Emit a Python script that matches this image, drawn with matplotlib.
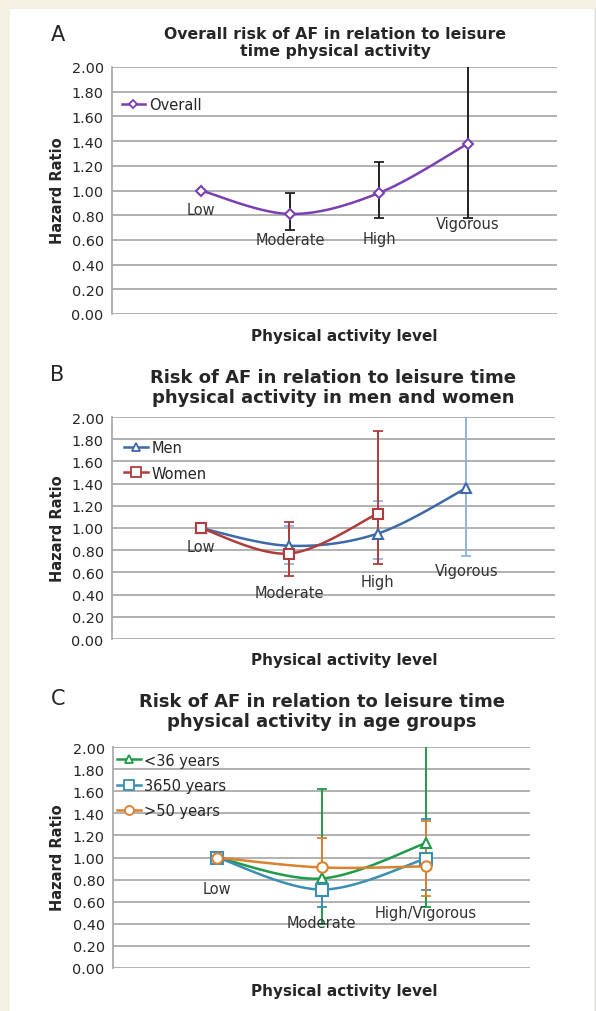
import numpy as np
import matplotlib
matplotlib.use("Agg")
import matplotlib.pyplot as plt
from matplotlib.patches import Rectangle
from matplotlib.lines import Line2D

# ---------------- data ----------------
cats_A = ["Low", "Moderate", "High", "Vigorous"]
overall_hr = [1.00, 0.81, 0.98, 1.38]
overall_lo = [np.nan, 0.68, 0.78, 0.78]
overall_hi = [np.nan, 0.98, 1.23, 2.30]

cats_B = ["Low", "Moderate", "High", "Vigorous"]
men_hr = [1.00, 0.84, 0.95, 1.36]
men_lo = [np.nan, 0.68, 0.72, 0.75]
men_hi = [np.nan, 1.02, 1.24, 2.30]
women_hr = [1.00, 0.77, 1.13]
women_lo = [np.nan, 0.57, 0.68]
women_hi = [np.nan, 1.05, 1.87]

cats_C = ["Low", "Moderate", "High/Vigorous"]
young_hr = [1.00, 0.81, 1.13]
young_lo = [np.nan, 0.40, 0.55]
young_hi = [np.nan, 1.62, 2.30]
mid_hr = [1.00, 0.71, 0.99]
mid_lo = [np.nan, 0.55, 0.71]
mid_hi = [np.nan, 0.92, 1.35]
old_hr = [1.00, 0.91, 0.92]
old_lo = [np.nan, 0.72, 0.65]
old_hi = [np.nan, 1.18, 1.33]

yticks = [0.0, 0.2, 0.4, 0.6, 0.8, 1.0, 1.2, 1.4, 1.6, 1.8, 2.0]

# ---------------- helpers ----------------
W, H = 596, 1012
fig = plt.figure(figsize=(W / 100, H / 100), dpi=100)
fig.patch.set_facecolor("#F3F1E4")
fig.add_artist(Rectangle((10 / W, 0), 584 / W, (H - 10) / H, transform=fig.transFigure,
                         facecolor="white", edgecolor="none", zorder=0))
fig.add_artist(Line2D([594.5 / W, 594.5 / W], [0, (H - 10) / H], transform=fig.transFigure,
                      color="#E2E2E2", lw=1, zorder=0))

TXT = "#262626"
GRID = "#ABABAB"


def rect(l, r, t, b):
    return [l / W, 1 - b / H, (r - l) / W, (b - t) / H]


def smooth(x, y, n=40):
    pts = np.column_stack([np.asarray(x, float), np.asarray(y, float)])
    out = []
    m = len(pts)
    for i in range(m - 1):
        p0 = pts[max(i - 1, 0)]
        p1 = pts[i]
        p2 = pts[i + 1]
        p3 = pts[min(i + 2, m - 1)]
        c1 = p1 + (p2 - p0) / 6.0
        c2 = p2 - (p3 - p1) / 6.0
        t = np.linspace(0, 1, n)[:, None]
        seg = (1 - t) ** 3 * p1 + 3 * (1 - t) ** 2 * t * c1 + 3 * (1 - t) * t ** 2 * c2 + t ** 3 * p2
        out.append(seg if i == 0 else seg[1:])
    s = np.vstack(out)
    return s[:, 0], s[:, 1]


def base_axes(r, xmax):
    ax = fig.add_axes(r)
    ax.set_xlim(0, xmax)
    ax.set_ylim(0, 2.0)
    ax.set_yticks(yticks)
    ax.set_yticklabels([f"{v:.2f}" for v in yticks], fontsize=10.4, color=TXT)
    ax.set_xticks([])
    ax.tick_params(axis="y", length=0, pad=6)
    for s in ["top", "right", "bottom"]:
        ax.spines[s].set_visible(False)
    ax.spines["left"].set_color(GRID)
    ax.spines["left"].set_linewidth(1.3)
    ax.grid(axis="y", color=GRID, lw=1.3)
    ax.set_axisbelow(True)
    ax.patch.set_alpha(0)
    return ax


def series(ax, hr, lo, hi, color, ecolor, marker, ms, label):
    x = np.arange(1, len(hr) + 1)
    hr = np.array(hr)
    lo = np.array(lo)
    hi = np.array(hi)
    ok = ~np.isnan(lo)
    ax.errorbar(x[ok], hr[ok], yerr=[hr[ok] - lo[ok], hi[ok] - hr[ok]], fmt="none",
                ecolor=ecolor, elinewidth=1.4, capsize=3.5, capthick=1.3, zorder=3)
    sx, sy = smooth(x, hr)
    ax.plot(sx, sy, color=color, lw=1.8, zorder=4)
    ax.plot(x, hr, linestyle="none", marker=marker, ms=ms, mfc="white", mec=color, mew=1.5, zorder=5)
    return Line2D([], [], color=color, lw=1.8, marker=marker, ms=ms - 1, mfc="white", mec=color,
                  mew=1.3, label=label)


def cat_labels(ax, cats, ys):
    for i, (c, yy) in enumerate(zip(cats, ys)):
        ax.text(i + 1, yy, c, ha="center", va="center", fontsize=10.5, color="#333333", zorder=6)


def figtext(x, y, s, **kw):
    fig.text(x / W, 1 - y / H, s, **kw)


# ---------------- Panel A ----------------
axA = base_axes(rect(112, 557, 68, 315), 5)
hA = series(axA, overall_hr, overall_lo, overall_hi, "#7B3FB3", "#222222", "D", 5, "Overall")
cat_labels(axA, cats_A, [0.85, 0.60, 0.61, 0.73])
axA.legend(handles=[hA], loc="upper left", bbox_to_anchor=(0.022, 0.88), frameon=False,
           fontsize=10.5, handlelength=1.6, handletextpad=0.25, borderpad=0, borderaxespad=0,
           labelcolor=TXT)
figtext(58, 35, "A", fontsize=15, ha="center", va="center", color=TXT)
figtext(335, 43, "Overall risk of AF in relation to leisure\ntime physical activity", fontsize=11.3,
        fontweight="bold", ha="center", va="center", color=TXT, linespacing=1.15)
figtext(57, 191, "Hazard Ratio", rotation=90, fontsize=10.5, fontweight="bold", ha="center",
        va="center", color=TXT)
figtext(344, 337, "Physical activity level", fontsize=11, fontweight="bold", ha="center",
        va="center", color=TXT)

# ---------------- Panel B ----------------
axB = base_axes(rect(112, 555, 418, 640), 5)
hM = series(axB, men_hr, men_lo, men_hi, "#3D6BA8", "#8FB4E0", "^", 6.5, "Men")
hW = series(axB, women_hr, women_lo, women_hi, "#B03C3C", "#B03C3C", "s", 7.5, "Women")
cat_labels(axB, cats_B, [0.83, 0.42, 0.52, 0.62])
axB.legend(handles=[hM, hW], loc="upper left", bbox_to_anchor=(0.028, 0.895), frameon=False,
           fontsize=10.5, handlelength=1.6, handletextpad=0.25, borderpad=0, borderaxespad=0,
           labelspacing=0.7, labelcolor=TXT)
figtext(57, 375, "B", fontsize=15, ha="center", va="center", color=TXT)
figtext(333, 388, "Risk of AF in relation to leisure time\nphysical activity in men and women",
        fontsize=13, fontweight="bold", ha="center", va="center", color=TXT, linespacing=1.15)
figtext(57, 529, "Hazard Ratio", rotation=90, fontsize=10.5, fontweight="bold", ha="center",
        va="center", color=TXT)
figtext(344, 661, "Physical activity level", fontsize=11, fontweight="bold", ha="center",
        va="center", color=TXT)

# ---------------- Panel C ----------------
axC = base_axes(rect(113, 530, 748, 969), 4)
hY = series(axC, young_hr, young_lo, young_hi, "#219A4A", "#219A4A", "^", 7, "<36 years")
hMd = series(axC, mid_hr, mid_lo, mid_hi, "#3A8FB3", "#3A8FB3", "s", 8, "3650 years")
hO = series(axC, old_hr, old_lo, old_hi, "#D9822F", "#D9822F", "o", 7.5, ">50 years")
cat_labels(axC, cats_C, [0.72, 0.41, 0.50])
axC.legend(handles=[hY, hMd, hO], loc="upper left", bbox_to_anchor=(0.01, 0.975), frameon=False,
           fontsize=10.5, handlelength=1.6, handletextpad=0.25, borderpad=0, borderaxespad=0,
           labelspacing=0.7, labelcolor=TXT)
figtext(58, 699, "C", fontsize=15, ha="center", va="center", color=TXT)
figtext(322, 712, "Risk of AF in relation to leisure time\nphysical activity in age groups",
        fontsize=13, fontweight="bold", ha="center", va="center", color=TXT, linespacing=1.15)
figtext(57, 858, "Hazard Ratio", rotation=90, fontsize=10.5, fontweight="bold", ha="center",
        va="center", color=TXT)
figtext(344, 992, "Physical activity level", fontsize=11, fontweight="bold", ha="center",
        va="center", color=TXT)

fig.savefig("out.png", dpi=100, facecolor=fig.get_facecolor())
